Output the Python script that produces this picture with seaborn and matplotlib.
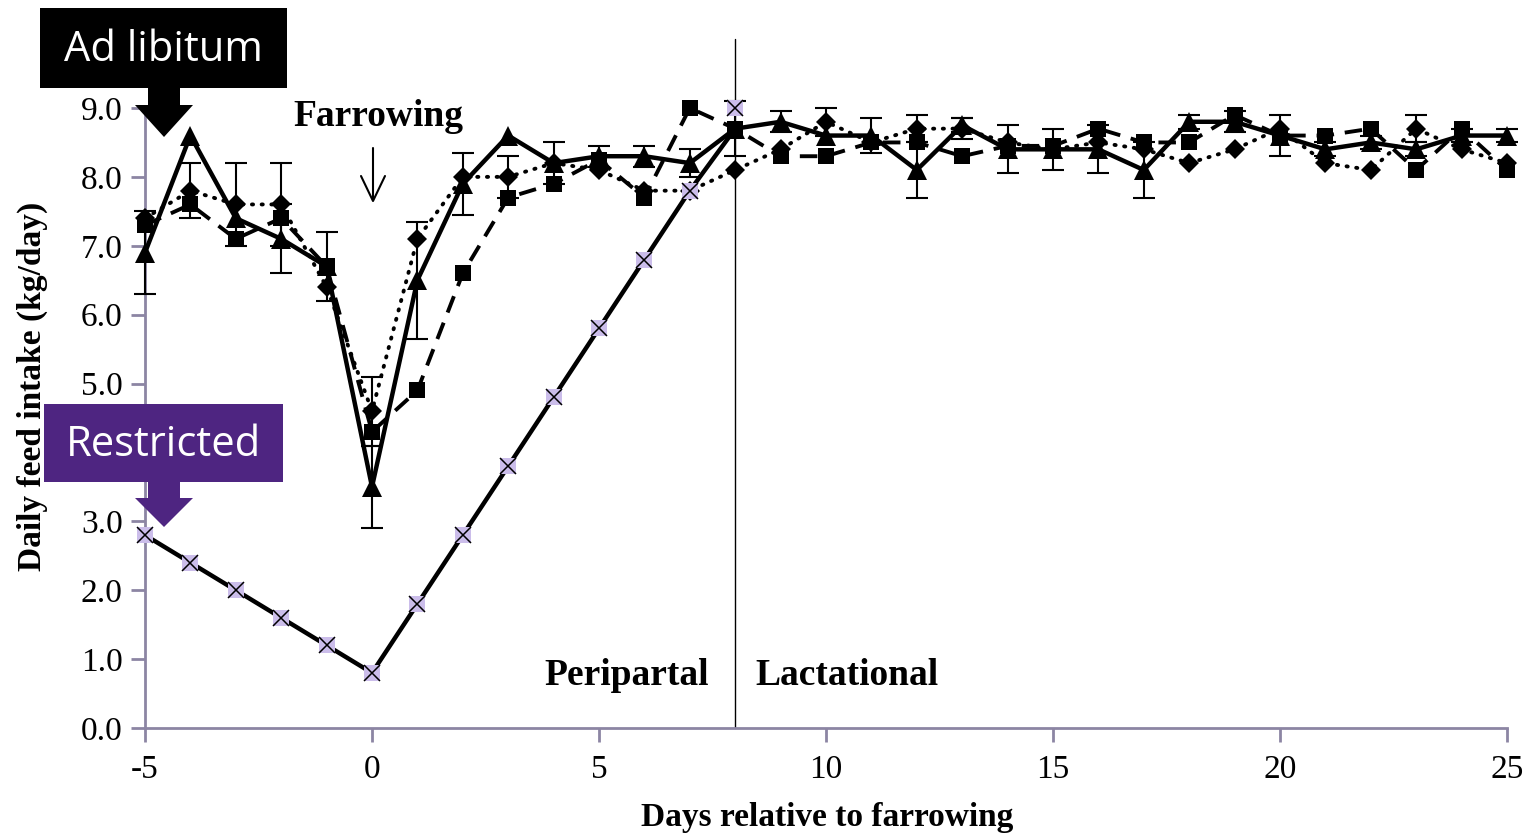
import matplotlib
matplotlib.use("Agg")
import matplotlib.pyplot as plt
import numpy as np
import pandas as pd
import seaborn as sns
from matplotlib.patches import Rectangle, Polygon

# data (days -5 .. 25)
days = list(range(-5, 26))
adlib_triangle = [6.9, 8.6, 7.4, 7.1, 6.7, 3.5, 6.5, 7.9, 8.6, 8.2, 8.3, 8.3, 8.2, 8.7, 8.8, 8.6,
                  8.6, 8.1, 8.75, 8.4, 8.4, 8.4, 8.1, 8.8, 8.8, 8.6, 8.4, 8.5, 8.4, 8.6, 8.6]
adlib_square = [7.3, 7.6, 7.1, 7.4, 6.7, 4.3, 4.9, 6.6, 7.7, 7.9, 8.25, 7.7, 9.0, 8.7, 8.3, 8.3,
                8.5, 8.5, 8.3, 8.45, 8.45, 8.7, 8.5, 8.5, 8.9, 8.6, 8.6, 8.7, 8.1, 8.7, 8.1]
adlib_diamond = [7.4, 7.8, 7.6, 7.6, 6.4, 4.6, 7.1, 8.0, 8.0, 8.2, 8.1, 7.8, 7.8, 8.1, 8.4, 8.8,
                 8.5, 8.7, 8.7, 8.5, 8.4, 8.5, 8.4, 8.2, 8.4, 8.7, 8.2, 8.1, 8.7, 8.4, 8.2]
triangle_err = [0.6, 0, 0, 0.5, 0.5, 0.6, 0.85, 0.45, 0, 0.3, 0.15, 0.15, 0.2, 0.4, 0.15, 0,
                0.25, 0.4, 0.1, 0.35, 0.3, 0.35, 0.4, 0.1, 0.15, 0.3, 0.1, 0.1, 0.1, 0.1, 0.1]
diamond_err = [0, 0.4, 0.6, 0.6, 0, 0.5, 0, 0, 0.3, 0, 0, 0, 0, 0, 0, 0.2,
               0, 0.2, 0.15, 0, 0, 0, 0, 0, 0, 0, 0, 0, 0.2, 0, 0]
restricted_days = list(range(-5, 9))
restricted = [2.8, 2.4, 2.0, 1.6, 1.2, 0.8, 1.8, 2.8, 3.8, 4.8, 5.8, 6.8, 7.8, 9.0]

yticks = [0, 1, 2, 3, 4, 5, 6, 7, 8, 9]
xticks = [-5, 0, 5, 10, 15, 20, 25]

W, H = 1534, 838


def fx(px):
    return px / W


def fy(py):
    return 1 - py / H


def main():
    sns.set_theme(style="ticks")
    plt.rcParams["font.family"] = ["Liberation Serif", "DejaVu Serif"]
    plt.rcParams["text.color"] = "black"
    axis_col = "#8c85a3"

    fig = plt.figure(figsize=(W / 100, H / 100), dpi=100, facecolor="white")
    ax = fig.add_axes([fx(145), fy(728), fx(1507) - fx(145), fy(108) - fy(728)])

    df = pd.DataFrame({"day": days, "tri": adlib_triangle, "sq": adlib_square, "dia": adlib_diamond})
    rdf = pd.DataFrame({"day": restricted_days, "val": restricted})

    # restricted line (to day 7, then joins the ad lib point at day 8)
    sns.lineplot(data=rdf.iloc[:-1], x="day", y="val", ax=ax, color="black", lw=3.2, zorder=3,
                 clip_on=False)
    ax.plot([restricted_days[-2], days[13]], [restricted[-2], adlib_triangle[13]],
            color="black", lw=3.2, zorder=3)

    sns.lineplot(data=df, x="day", y="dia", ax=ax, color="black", lw=2.8,
                 linestyle=(0, (0.3, 2.2)), dash_capstyle="round",
                 marker="D", markersize=10, markeredgewidth=0, zorder=4, clip_on=False)
    sns.lineplot(data=df, x="day", y="sq", ax=ax, color="black", lw=2.8,
                 linestyle=(0, (4.5, 2.8)),
                 marker="s", markersize=12, markeredgewidth=0, zorder=4, clip_on=False)
    sns.lineplot(data=df, x="day", y="tri", ax=ax, color="black", lw=3.2,
                 marker="^", markersize=14, markeredgewidth=0, zorder=5, clip_on=False)

    d = np.array(days)
    te = np.array(triangle_err)
    m = te > 0
    ax.errorbar(d[m], np.array(adlib_triangle)[m], yerr=te[m], fmt="none",
                ecolor="black", elinewidth=1.5, capsize=8, capthick=1.5, zorder=6, clip_on=False)
    de = np.array(diamond_err)
    m = de > 0
    ax.errorbar(d[m], np.array(adlib_diamond)[m], yerr=de[m], fmt="none",
                ecolor="black", elinewidth=1.5, capsize=8, capthick=1.5, zorder=6, clip_on=False)

    # restricted markers: lavender square with black x
    ax.plot(restricted_days, restricted, linestyle="none", marker="s", markersize=12,
            markerfacecolor="#cbbdea", markeredgewidth=0, zorder=7, clip_on=False)
    ax.plot(restricted_days, restricted, linestyle="none", marker="x", markersize=12,
            markeredgecolor="black", markeredgewidth=1.1, zorder=8, clip_on=False)

    ax.axvline(8, ymin=0, ymax=10 / 9, color="black", lw=1.0, clip_on=False, zorder=2)

    ax.set_xlim(-5, 25)
    ax.set_ylim(0, 9)
    ax.set_xticks(xticks)
    ax.set_xticklabels([str(t) for t in xticks])
    ax.set_yticks(yticks)
    ax.set_yticklabels([f"{t:.1f}" for t in yticks])
    ax.tick_params(axis="both", direction="out", length=10, width=2, color=axis_col,
                   labelsize=24, labelcolor="black")
    ax.tick_params(axis="x", pad=9)
    ax.tick_params(axis="y", pad=6)
    for s in ["top", "right"]:
        ax.spines[s].set_visible(False)
    for s in ["left", "bottom"]:
        ax.spines[s].set_color(axis_col)
        ax.spines[s].set_linewidth(2)
    ax.set_xlabel("")
    ax.set_ylabel("")

    fig.text(fx(827), fy(817), "Days relative to farrowing", ha="center", va="center",
             fontsize=24, fontweight="bold")
    fig.text(fx(32), fy(386), "Daily feed intake (kg/day)", ha="center", va="center",
             rotation=90, fontsize=24, fontweight="bold")
    fig.text(fx(378), fy(117), "Farrowing", ha="center", va="center", fontsize=27,
             fontweight="bold")
    fig.text(fx(627), fy(675), "Peripartal", ha="center", va="center", fontsize=27,
             fontweight="bold")
    fig.text(fx(847), fy(675), "Lactational", ha="center", va="center", fontsize=27,
             fontweight="bold")

    # thin farrowing arrow
    fig.add_artist(plt.Line2D([fx(373), fx(373)], [fy(148), fy(200)], color="black", lw=1.5))
    fig.add_artist(plt.Line2D([fx(361), fx(373), fx(385)], [fy(176), fy(201), fy(176)],
                              color="black", lw=1.5))

    # label boxes with block arrows
    def block(x0, y0, x1, y1, col, label):
        fig.add_artist(Rectangle((fx(x0), fy(y1)), fx(x1) - fx(x0), fy(y0) - fy(y1),
                                 transform=fig.transFigure, facecolor=col, edgecolor="none",
                                 zorder=10))
        fig.text(fx((x0 + x1) / 2), fy((y0 + y1) / 2 + 2), label, ha="center", va="center",
                 color="white", fontsize=30, family=["Open Sans", "DejaVu Sans"], zorder=11)

    def down_arrow(y0, y_head, y_tip, col):
        pts = [(148, y0), (180, y0), (180, y_head), (193, y_head), (164, y_tip),
               (135, y_head), (148, y_head)]
        fig.add_artist(Polygon([(fx(a), fy(b)) for a, b in pts], closed=True,
                               transform=fig.transFigure, facecolor=col, edgecolor="none",
                               zorder=10))

    block(40, 8, 287, 88, "black", "Ad libitum")
    down_arrow(88, 105, 137, "black")
    block(44, 404, 283, 482, "#4e2581", "Restricted")
    down_arrow(482, 498, 527, "#4e2581")

    fig.savefig("out.png", dpi=100, facecolor="white")


if __name__ == "__main__":
    main()
